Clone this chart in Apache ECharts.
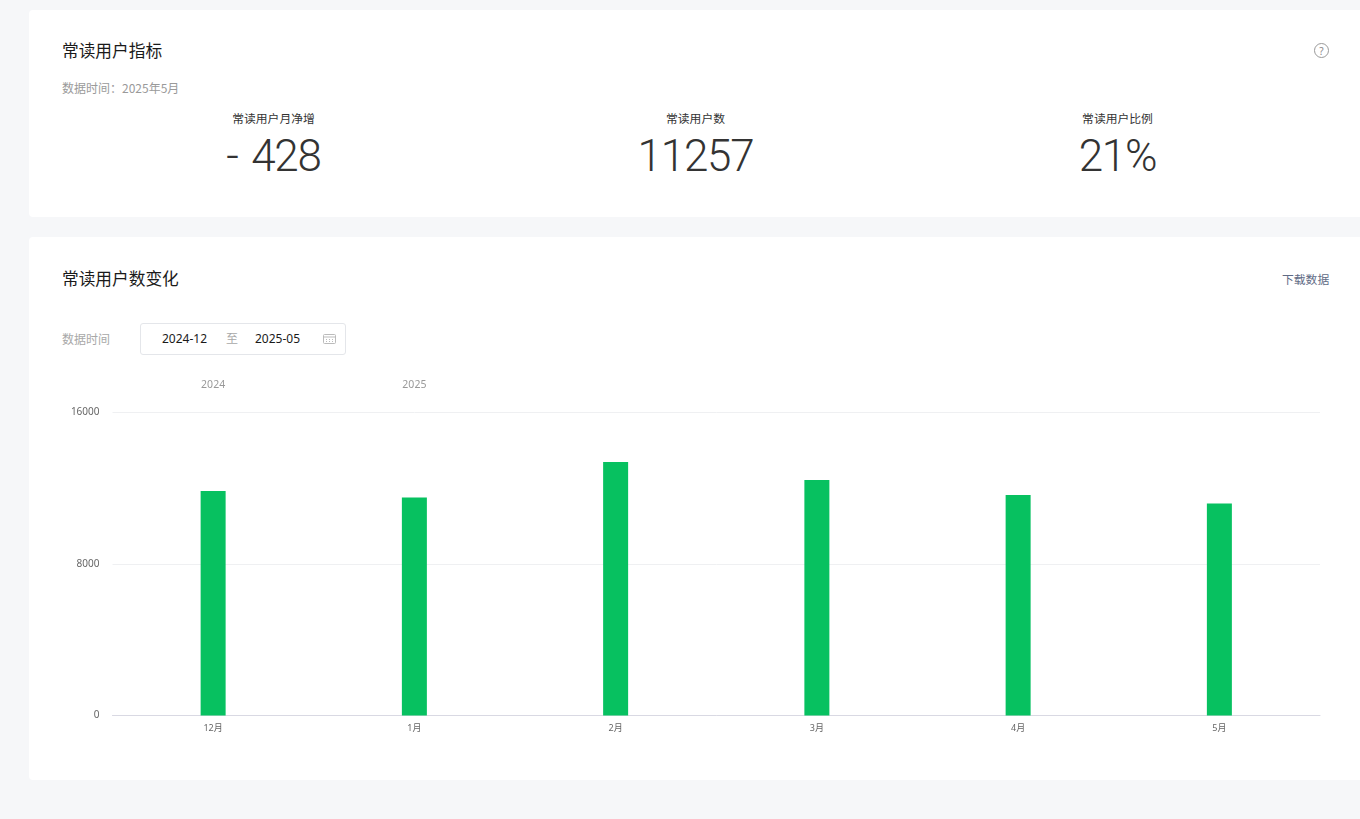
<!DOCTYPE html>
<html><head><meta charset="utf-8">
<script src="https://cdn.jsdelivr.net/npm/echarts@6/dist/echarts.min.js"></script>
<style>
html,body{margin:0;padding:0;background:#f6f7f9;width:1360px;height:819px;overflow:hidden;font-family:"Noto Sans","Noto Sans CJK SC",sans-serif;}
.card{position:absolute;left:29px;width:1340px;background:#fff;border-radius:4px;}
.t{position:absolute;white-space:nowrap;line-height:1;}
#chart{position:absolute;left:0;top:365px;width:1360px;height:400px;}
</style></head><body>
<div class="card" style="top:10px;height:207px"></div>
<div class="card" style="top:237px;height:543px"></div>
<div class="t" style="left:62px;top:43px;font-size:16.7px;color:#1a1a1a">常读用户指标</div>
<div class="t" style="left:62px;top:82px;font-size:12px;color:#9a9a9a;font-family:'Noto Sans CJK SC',sans-serif">数据时间&#65306;2025年5月</div>
<svg style="position:absolute;left:1313px;top:42px" width="17" height="17"><circle cx="8.5" cy="8.5" r="7" fill="none" stroke="#999" stroke-width="1"/><text x="8.5" y="12.5" text-anchor="middle" font-size="10" fill="#888">?</text></svg>
<div id="kpis"></div>
<div class="t" style="left:62px;top:271px;font-size:16.7px;color:#1a1a1a">常读用户数变化</div>
<div class="t" style="left:1282px;top:274px;font-size:11.8px;color:#5f6b85">下载数据</div>
<div class="t" style="left:62px;top:334px;font-size:12px;color:#a8a8a8">数据时间</div>
<div style="position:absolute;left:140px;top:323px;width:204px;height:30px;border:1px solid #e4e6ea;border-radius:3px"></div>
<div class="t" style="left:162px;top:333px;font-size:12px;color:#1a1a1a">2024-12</div>
<div class="t" style="left:226px;top:333px;font-size:12px;color:#a8a8a8">至</div>
<div class="t" style="left:255px;top:333px;font-size:12px;color:#1a1a1a">2025-05</div>
<svg style="position:absolute;left:323px;top:334px" width="14" height="11"><rect x="0.5" y="0.5" width="12" height="9" rx="1" fill="none" stroke="#bbb"/><path d="M0.5 3H12.5" stroke="#bbb"/><path d="M3 5.5h1M6 5.5h1M9 5.5h1M3 7.5h1M6 7.5h1M9 7.5h1" stroke="#bbb"/></svg>
<div id="chart"></div>
<script>
const kpiLabels=['常读用户月净增','常读用户数','常读用户比例'];
const kpiValues=['- 428','11257','21%'];
const kpiCenters=[273.5,695.5,1117.5];
const categories=['12月','1月','2月','3月','4月','5月'];
const yearLabels=['2024','2025','','','',''];
const userCounts=[11855,11510,13386,12435,11643,11195];
const yTicks=[0,8000,16000];
document.getElementById('kpis').innerHTML=kpiLabels.map((l,i)=>
 `<div class="t" style="left:${kpiCenters[i]-150}px;width:300px;text-align:center;top:113px;font-size:11.8px;color:#333">${l}</div>`+
 `<div class="t" style="left:${kpiCenters[i]-150}px;width:300px;text-align:center;top:134px;font-size:44px;font-family:Roboto,sans-serif;font-weight:300;letter-spacing:-1.2px;word-spacing:4px;color:#333">${kpiValues[i]}</div>`).join('');
const chart=echarts.init(document.getElementById('chart'),null,{renderer:'canvas'});
const font='"Noto Sans","Noto Sans CJK SC",sans-serif';
chart.setOption({
 animation:false,
 grid:{left:112.5,right:40,top:47.5,height:303},
 xAxis:[
  {type:'category',data:categories,position:'bottom',axisTick:{show:false},
   axisLine:{lineStyle:{color:'#d9d9e3'}},
   axisLabel:{fontSize:9,color:'#666',margin:8,fontFamily:font}},
  {type:'category',data:yearLabels,position:'top',axisTick:{show:false},axisLine:{show:false},
   axisLabel:{fontSize:10.5,color:'#999',margin:22,interval:0,fontFamily:font}}
 ],
 yAxis:{type:'value',min:yTicks[0],max:yTicks[2],interval:yTicks[1],
  axisLine:{show:false},axisTick:{show:false},
  axisLabel:{fontSize:10,color:'#666',margin:13,fontFamily:font,formatter:v=>String(v),verticalAlign:'middle',padding:[5,0,0,0]},
  splitLine:{lineStyle:{color:'#eff0f2'}}},
 series:[{type:'bar',data:userCounts,barWidth:25,itemStyle:{color:'#07c160'}}]
});
</script>
</body></html>
